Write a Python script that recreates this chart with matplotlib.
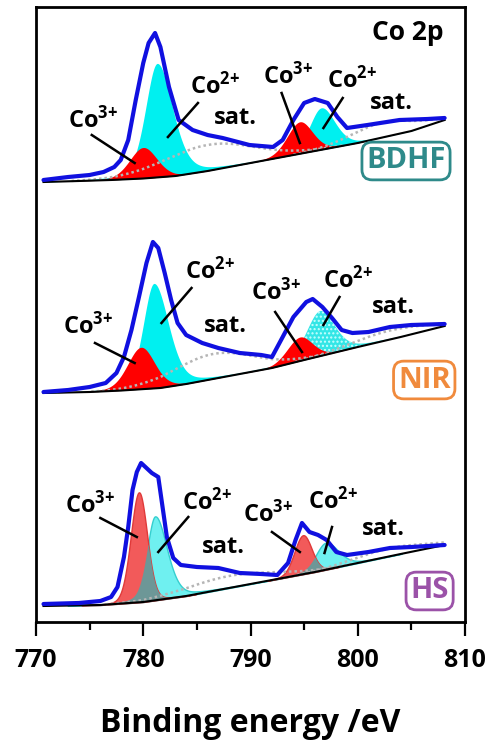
import numpy as np
import matplotlib
matplotlib.use("Agg")
import matplotlib.pyplot as plt

plt.rcParams['font.family'] = ['Open Sans', 'DejaVu Sans']
plt.rcParams['font.weight'] = 'bold'
plt.rcParams['mathtext.fontset'] = 'custom'
plt.rcParams['mathtext.bf'] = 'Open Sans:bold'
plt.rcParams['mathtext.rm'] = 'Open Sans:bold'
plt.rcParams['mathtext.default'] = 'bf'

# ---- data (binding energy in eV, intensity in a.u.) ----
samples = ['BDHF', 'NIR', 'HS']
sample_colors = ['#2e8a8a', '#f08a3c', '#9b52a8']
offsets = [440, 229, 16]

# measured envelope (blue)
env_E_bdhf = [770.7, 773, 775, 776.3, 777.3, 777.9, 778.6, 779.3, 780.0, 780.5, 781.1, 781.6,
              782.4, 783.3, 784.6, 786, 787.4, 789.9, 791, 792.1, 793, 794, 795, 796, 797.2,
              798.1, 799, 800.9, 803.9, 806.5, 808.1]
env_I_bdhf = [2, 5, 7, 10, 15, 22, 42, 82, 119, 139, 149, 135,
              95, 62, 52, 47, 44, 37, 36, 35, 42, 62, 79, 83, 79,
              65, 54, 57, 62, 63, 64]
env_E_nir = [770.7, 773, 775, 776.5, 777.5, 778.2, 778.9, 779.6, 780.3, 780.9, 781.4, 782.0,
             782.6, 783.2, 784, 785.5, 787, 789, 791, 792, 793, 794, 795.2, 795.8, 796.7,
             797.6, 798.5, 799.5, 801, 803, 805, 808.1]
env_I_nir = [1, 3, 6, 10, 20, 36, 63, 96, 130, 151, 145, 120,
             93, 70, 58, 50, 45, 40, 38, 36, 56, 76, 91, 94, 86,
             75, 63, 60, 61, 66, 68, 69]
env_E_hs = [770.7, 774, 776, 777, 777.6, 778.2, 778.6, 779.0, 779.4, 779.8, 780.3, 780.8,
            781.4, 781.8, 782.2, 782.8, 783.5, 785, 787, 789, 791, 792.5, 793.5, 794.2, 794.8,
            795.5, 796.3, 797.1, 798, 799, 801, 803, 805, 808.1]
env_I_hs = [2, 3, 5, 9, 19, 49, 79, 116, 134, 143, 138, 133,
            129, 99, 69, 48, 41, 39, 38, 33, 32, 31, 43, 66, 83,
            74, 71, 66, 54, 51, 54, 58, 59, 61]

# background (black)
bg_E_bdhf = [770.7, 774, 777, 780, 783, 786, 790, 795, 800, 805, 808.1]
bg_I_bdhf = [0, 1, 2, 3.5, 6, 11, 19, 29, 39, 51, 62]
bg_E_nir = [770.7, 775, 778, 781.6, 784, 787, 790, 792, 795, 800, 804, 808.1]
bg_I_nir = [0, 1, 2.5, 5, 9, 15, 21, 25, 33, 46, 56, 67]
bg_E_hs = [770.7, 776, 780, 784, 788, 792, 796, 800, 804, 808.1]
bg_I_hs = [0, 1, 4, 10, 18, 26, 34, 43, 52, 61]

# fitted components: (center, height, fwhm_left, fwhm_right, lorentz fraction)
co3_bdhf = [(780.0, 31, 3.0, 3.0, 0.2), (794.6, 32, 2.8, 2.8, 0.2)]
co2_bdhf = [(781.3, 114, 2.6, 3.4, 0.3), (796.6, 42, 2.6, 3.0, 0.3)]
sat_bdhf = [(786.0, 26, 10, 10, 0.0), (802.3, 15, 7, 7, 0.0)]
co3_nir = [(779.8, 42, 3.0, 3.0, 0.2), (794.6, 24, 2.8, 2.8, 0.2)]
co2_nir = [(781.0, 105, 2.4, 3.2, 0.3), (796.5, 45, 3.0, 3.2, 0.3)]
sat_nir = [(786.5, 25, 9, 9, 0.0), (803.0, 9, 8, 8, 0.0)]
co3_hs = [(779.6, 110, 1.8, 1.8, 0.1), (794.9, 39, 1.9, 1.9, 0.1)]
co2_hs = [(781.1, 84, 1.8, 2.6, 0.3), (797.0, 27, 2.2, 2.8, 0.3)]
sat_hs = [(788.0, 12, 10, 10, 0.0), (803.0, 8, 8, 8, 0.0)]

envelopes = [(env_E_bdhf, env_I_bdhf), (env_E_nir, env_I_nir), (env_E_hs, env_I_hs)]
backgrounds = [(bg_E_bdhf, bg_I_bdhf), (bg_E_nir, bg_I_nir), (bg_E_hs, bg_I_hs)]
co3_peaks = [co3_bdhf, co3_nir, co3_hs]
co2_peaks = [co2_bdhf, co2_nir, co2_hs]
sat_peaks = [sat_bdhf, sat_nir, sat_hs]


def pvoigt(x, c, h, wl, wr, eta):
    # asymmetric pseudo-Voigt line shape of an XPS fit component
    hw = np.where(x < c, wl, wr) / 2.0
    u = (x - c) / hw
    return h * ((1 - eta) * np.exp(-np.log(2) * u ** 2) + eta / (1 + u ** 2))


fig = plt.figure(figsize=(4.89, 7.49), dpi=100)
ax = fig.add_axes([36 / 489, 127 / 749, 429 / 489, 615 / 749])

x = np.linspace(770.7, 808.1, 800)
for i in range(3):
    off = offsets[i]
    bE, bI = backgrounds[i]
    bg = np.interp(x, bE, bI) + off
    light = (i == 2)
    for p in sat_peaks[i]:
        s = pvoigt(x, *p)
        m = s > 0.3
        ax.fill_between(x[m], bg[m], bg[m] + s[m], color='white', lw=0, zorder=1)
    for j, p in enumerate(co2_peaks[i]):
        s = pvoigt(x, *p)
        m = s > 0.3
        if light:
            ax.fill_between(x[m], bg[m], bg[m] + s[m], facecolor='#6ff0f0', edgecolor='#35cfcf',
                            lw=1.0, zorder=2)
        elif i == 1 and j == 1:
            ax.fill_between(x[m], bg[m], bg[m] + s[m], facecolor='#33e6e6', edgecolor='#c8ffff',
                            hatch='....', lw=0, zorder=2)
        else:
            ax.fill_between(x[m], bg[m], bg[m] + s[m], color='#00f0f0', lw=0, zorder=2)
    for k, p in enumerate(co3_peaks[i]):
        s = pvoigt(x, *p)
        m = s > 0.3
        if light:
            ax.fill_between(x[m], bg[m], bg[m] + s[m], facecolor='#f25a5a', edgecolor='#e03a3a',
                            lw=1.0, zorder=3)
            ov = np.minimum(s, pvoigt(x, *co2_peaks[i][k]))
            mo = ov > 0.3
            ax.fill_between(x[mo], bg[mo], bg[mo] + ov[mo], color='#5f9e9e', alpha=0.9,
                            lw=0, zorder=3.5)
        else:
            ax.fill_between(x[m], bg[m], bg[m] + s[m], color='#ff0000', lw=0, zorder=3)
    for p in sat_peaks[i]:
        s = pvoigt(x, *p)
        m = s > 0.3
        ax.plot(x[m], bg[m] + s[m], color='#b5b5b5', lw=1.8, ls=(0, (1, 1.2)), zorder=4)
    ax.plot(bE, np.array(bI) + off, color='black', lw=1.5, zorder=5)
    eE, eI = envelopes[i]
    ax.plot(eE, np.array(eI) + off, color='#1010e0', lw=3.0, zorder=6,
            solid_joinstyle='round', solid_capstyle='round')

# labels: (text, x, y, leader start, leader end)
labels = [
    (r'Co$^{3\!+}$', 773.0, 502, (775.2, 487), (779.2, 459)),
    (r'Co$^{2\!+}$', 784.4, 536, (785.1, 519), (782.3, 485)),
    (r'Co$^{3\!+}$', 791.2, 546, (792.9, 529), (794.6, 479)),
    (r'Co$^{2\!+}$', 797.1, 542, (798.6, 524), (796.8, 494)),
    (r'Co$^{3\!+}$', 772.5, 296, (775.5, 279), (779.2, 259)),
    (r'Co$^{2\!+}$', 783.9, 351, (784.5, 334), (781.7, 299)),
    (r'Co$^{3\!+}$', 790.0, 330, (792.3, 310), (794.8, 270)),
    (r'Co$^{2\!+}$', 796.8, 342, (798.3, 325), (796.8, 297)),
    (r'Co$^{3\!+}$', 772.7, 117, (776.0, 104), (779.4, 85)),
    (r'Co$^{2\!+}$', 783.6, 120, (784.2, 105), (781.4, 70)),
    (r'Co$^{3\!+}$', 789.3, 108, (792.0, 90), (794.6, 70)),
    (r'Co$^{2\!+}$', 795.4, 121, (797.6, 95), (796.9, 69)),
]
for t, tx, ty, a, b in labels:
    ax.text(tx, ty, t, fontsize=17, fontweight='bold', ha='left', va='center', zorder=8)
    ax.plot([a[0], b[0]], [a[1], b[1]], color='black', lw=1.8, zorder=7)

sat_labels = [(788.6, 504), (803.1, 519), (787.7, 296), (803.3, 315), (787.5, 75), (802.4, 93)]
for tx, ty in sat_labels:
    ax.text(tx, ty, 'sat.', fontsize=17, fontweight='bold', ha='center', va='center', zorder=8)

ax.text(804.7, 589, 'Co 2p', fontsize=19, fontweight='bold', ha='center', va='center')

box_pos = [(804.5, 461), (806.2, 242), (806.7, 31)]
for name, col, (bx, by) in zip(samples, sample_colors, box_pos):
    ax.text(bx, by, name, fontsize=21, fontweight='bold', color=col, ha='center', va='center',
            zorder=9,
            bbox=dict(boxstyle='round,pad=0.15,rounding_size=0.35', fc='white', ec=col, lw=2))

ax.set_xlim(770, 810)
ax.set_ylim(0, 615)
ax.set_yticks([])
ax.set_xticks([770, 780, 790, 800, 810])
ax.set_xticks([775, 785, 795, 805], minor=True)
ax.tick_params(axis='x', which='major', direction='out', length=10, width=1.6, labelsize=18, pad=9)
ax.tick_params(axis='x', which='minor', direction='out', length=6, width=1.6)
for lab in ax.get_xticklabels():
    lab.set_fontweight('bold')
for sp in ax.spines.values():
    sp.set_linewidth(2)
ax.set_xlabel('Binding energy /eV', fontsize=23, fontweight='bold', labelpad=24)

fig.savefig('out.png', dpi=100)
